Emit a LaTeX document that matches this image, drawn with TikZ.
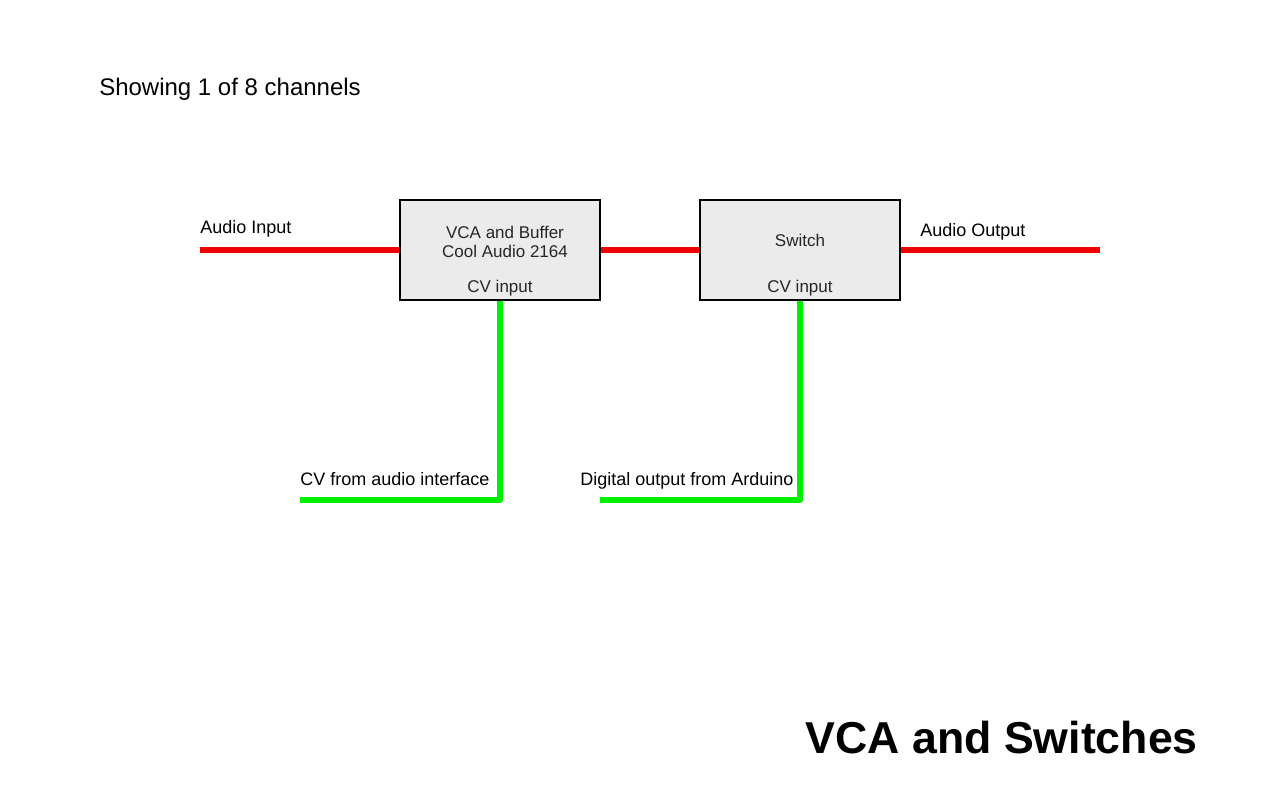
\documentclass[tikz,border=0pt]{standalone}
\usepackage{fontspec}
\setmainfont{Liberation Sans}
\usepackage{tikz}
\definecolor{audiored}{RGB}{240,0,0}
\definecolor{cvgreen}{RGB}{0,240,0}
\definecolor{boxgray}{RGB}{235,235,235}
\tikzset{
  audioline/.style={line width=4.5pt, color=audiored},
  cvline/.style={line width=4.5pt, color=cvgreen, line join=round},
  block/.style={draw=black, line width=1.5pt, fill=boxgray, minimum width=150pt, minimum height=75pt, inner sep=0pt},
  boxtext/.style={inner sep=0pt, font=\fontsize{12.75pt}{14pt}\selectfont, text=black!85},
  label/.style={inner sep=0pt, font=\fontsize{13.5pt}{15pt}\selectfont}
}

\begin{document}
\begin{tikzpicture}[x=0.75pt, y=-0.75pt]
			%%%%% START %%%%%
			\useasboundingbox (0, 0) rectangle (1280, 800);
			
			\coordinate (ain) at (200, 250);
			\coordinate (aout) at (1100, 250);
			\coordinate (cvsrc) at (300, 500);
			\coordinate (digsrc) at (600, 500);
			
			\node[block] (vca) at (500, 250) {};
			\node[block] (sw) at (800, 250) {};
			
			\draw[audioline] (ain) -- (vca.west);
			\draw[audioline] (vca.east) -- (sw.west);
			\draw[audioline] (sw.east) -- (aout);
			
			\draw[cvline] (vca.south) |- (cvsrc);
			\draw[cvline] (sw.south) |- (digsrc);
			
			\node[block] at (vca) {};
			\node[block] at (sw) {};
			
			\node[boxtext, align=center, anchor=base] (vcaname) at (505, 257) {VCA and Buffer\\Cool Audio 2164};
			\node[boxtext, anchor=base] (vcacv) at (500, 292) {CV input};
			\node[boxtext, anchor=base] (swname) at (800, 246) {Switch};
			\node[boxtext, anchor=base] (swcv) at (800, 292) {CV input};
			
			\node[label, anchor=base west] (ainlabel) at (200, 233) {Audio Input};
			\node[label, anchor=base west] (aoutlabel) at (920, 236) {Audio Output};
			\node[label, anchor=base west] (cvlabel) at (300, 485) {CV from audio interface};
			\node[label, anchor=base west] (diglabel) at (580, 485) {Digital output from Arduino};
			
			\node[inner sep=0pt, anchor=base west, font=\fontsize{18pt}{20pt}\selectfont] (note) at (99, 95) {Showing 1 of 8 channels};
			\node[inner sep=0pt, anchor=base east, font=\fontsize{33.5pt}{38pt}\selectfont\bfseries] (title) at (1198, 753) {VCA and Switches};
			%%%%% END %%%%%
\end{tikzpicture}
\end{document}
